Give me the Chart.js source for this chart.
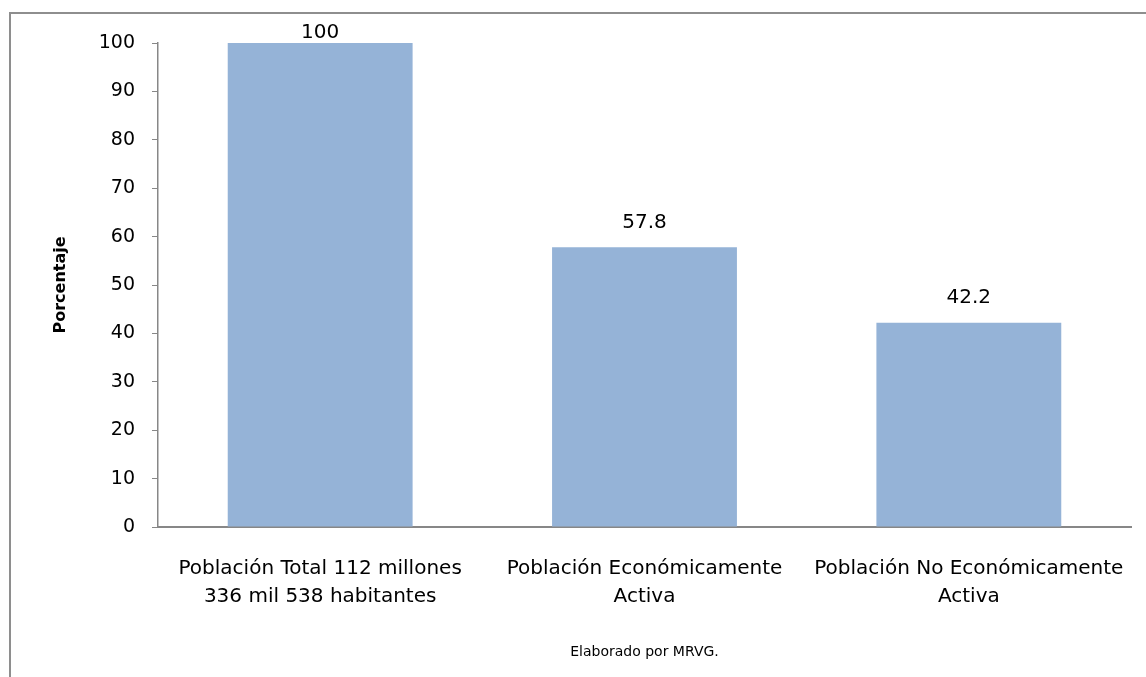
<!DOCTYPE html>
<html>
<head>
<meta charset="utf-8">
<script src="https://cdn.jsdelivr.net/npm/chart.js@4/dist/chart.umd.min.js"></script>
<style>
  html, body { margin: 0; padding: 0; background: #ffffff; }
  #wrap { position: relative; width: 1146px; height: 677px; overflow: hidden; }
  #frame { position: absolute; left: 9px; top: 12px; width: 1200px; height: 800px;
           border-top: 2px solid #8e8e8e; border-left: 2px solid #8e8e8e; }
  #c { position: absolute; left: 0; top: 0; }
</style>
</head>
<body>
<div id="wrap">
  <div id="frame"></div>
  <canvas id="c" width="1146" height="677"></canvas>
</div>
<script>
const categories = [
  ["Población Total 112 millones", "336 mil 538 habitantes"],
  ["Población Económicamente", "Activa"],
  ["Población No Económicamente", "Activa"]
];
const values = [100, 57.8, 42.2];
const valueLabels = ["100", "57.8", "42.2"];
const yTitle = "Porcentaje";
const xTitle = "Elaborado por MRVG.";

const FONT = "'DejaVu Sans', sans-serif";

const barLabels = {
  id: 'barLabels',
  afterDatasetsDraw(chart) {
    const ctx = chart.ctx;
    const meta = chart.getDatasetMeta(0);
    ctx.save();
    ctx.font = "20px " + FONT;
    ctx.fillStyle = "#000000";
    ctx.textAlign = "center";
    ctx.textBaseline = "middle";
    meta.data.forEach((bar, i) => {
      const y = Math.max(bar.y - 24.5, chart.chartArea.top - 10);
      ctx.fillText(valueLabels[i], bar.x, y);
    });
    ctx.restore();
  }
};

new Chart(document.getElementById('c'), {
  type: 'bar',
  data: {
    labels: categories,
    datasets: [{
      data: values,
      backgroundColor: '#95B3D7',
      borderWidth: 0,
      categoryPercentage: 1,
      barPercentage: 0.57
    }]
  },
  options: {
    responsive: false,
    animation: false,
    devicePixelRatio: 1,
    layout: { padding: { left: 0, right: 15, top: 43, bottom: 0 } },
    plugins: { legend: { display: false }, tooltip: { enabled: false } },
    scales: {
      x: {
        grid: { display: true, drawOnChartArea: false, drawTicks: false },
        border: { display: true, color: '#878787', width: 2 },
        ticks: { color: '#000000', padding: 27.5, maxRotation: 0, autoSkip: false,
                 font: { family: FONT, size: 20, lineHeight: 1.4 } },
        title: { display: true, text: xTitle, color: '#000000',
                 font: { family: FONT, size: 14, lineHeight: 1.2 },
                 padding: { top: 0, bottom: 16.5 } },
        afterFit(scale) { scale.height = 150; scale.paddingLeft = 0; scale.paddingRight = 0; }
      },
      y: {
        min: 0, max: 100,
        grid: { display: true, drawOnChartArea: false, drawTicks: true, tickLength: 6, color: '#878787' },
        border: { display: true, color: '#878787', width: 1.5 },
        ticks: { stepSize: 10, color: '#000000', padding: 17,
                 font: { family: FONT, size: 19 } },
        title: { display: true, text: yTitle, color: '#000000',
                 font: { family: FONT, size: 16, weight: 'bold', lineHeight: 1.2 },
                 padding: { top: 51, bottom: 0 } },
        afterFit(scale) { scale.width = 158; scale.paddingTop = 0; scale.paddingBottom = 0; }
      }
    }
  },
  plugins: [barLabels]
});
</script>
</body>
</html>
